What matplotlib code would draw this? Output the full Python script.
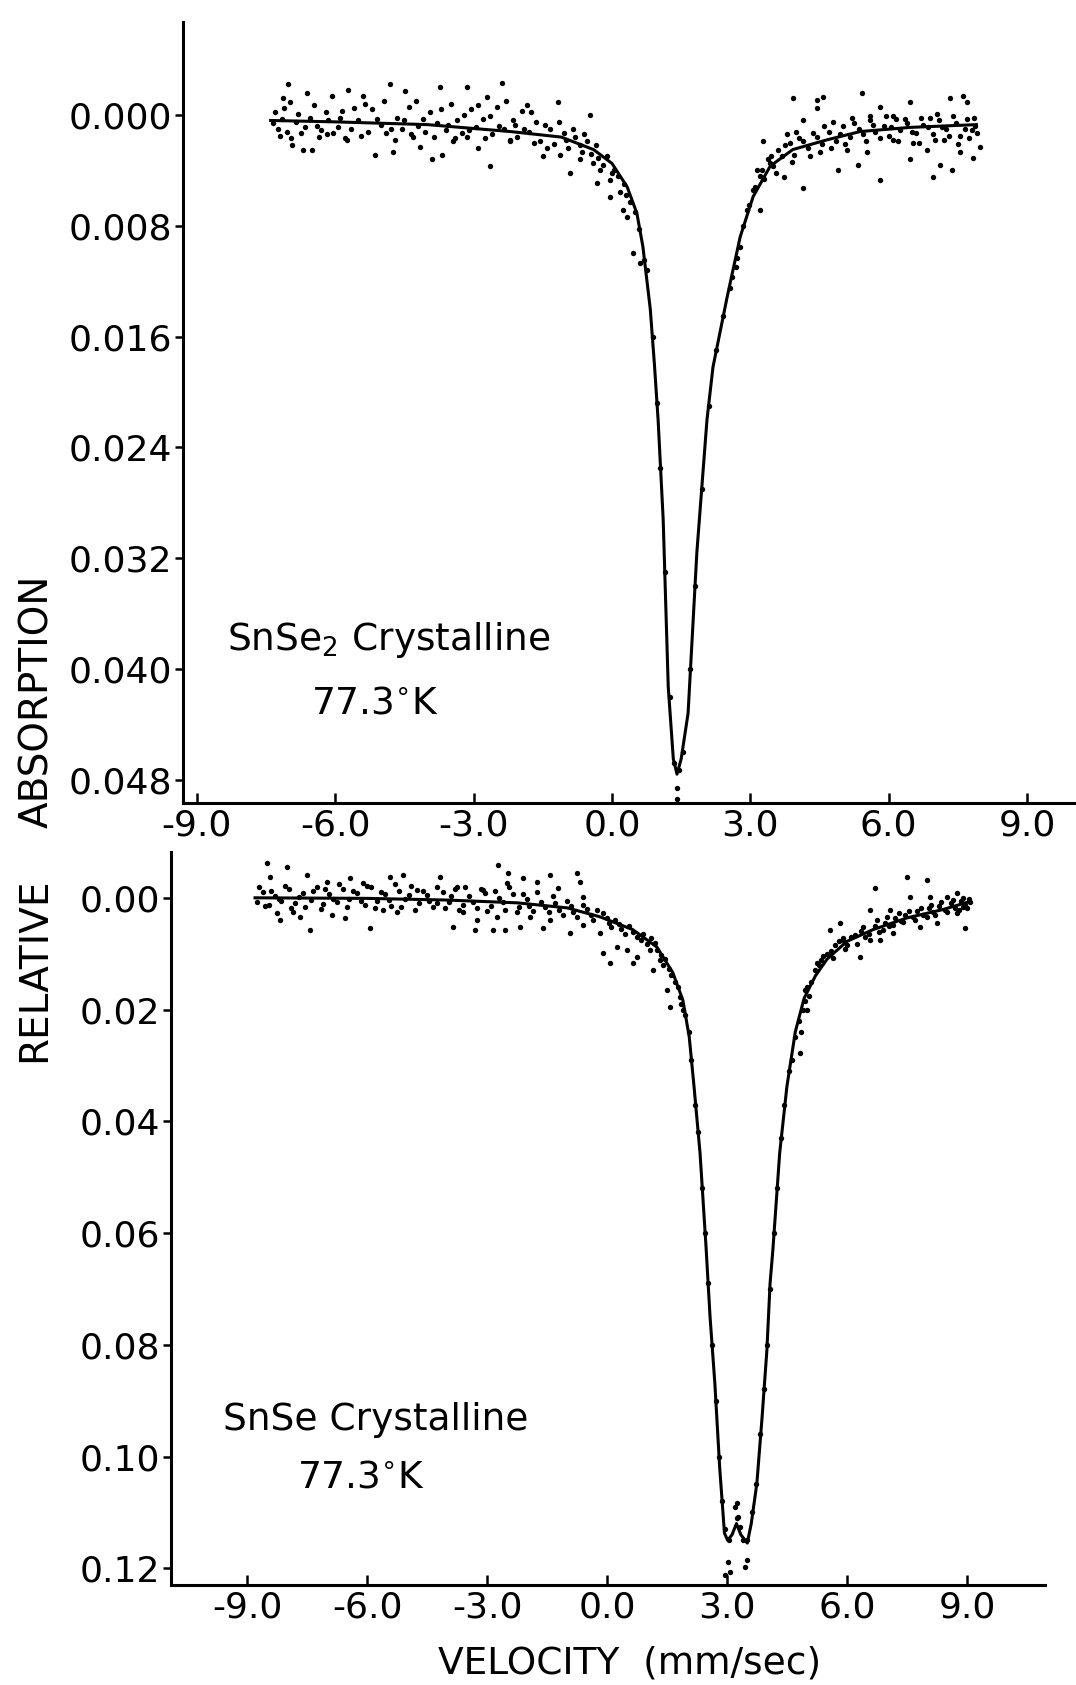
"""Mossbauer spectra of crystalline SnSe2 and SnSe at 77.3 K."""

import matplotlib

matplotlib.use("Agg")
import matplotlib.pyplot as plt

# ---- SnSe2 (top panel) -------------------------------------------------
snse2_fit_vel = [-7.4, -6.0, -4.0, -2.2, -1.1, -0.4, 0.0, 0.33, 0.54, 0.67, 0.83, 0.92,
                 1.0, 1.11, 1.22, 1.33, 1.41, 1.50, 1.65, 1.84, 2.06, 2.19, 2.50, 2.78,
                 3.06, 3.43, 3.92, 4.66, 5.38, 6.46, 7.9]
snse2_fit_abs = [0.0004, 0.0005, 0.0007, 0.0012, 0.0016, 0.0025, 0.0035, 0.0052, 0.0071,
                 0.0095, 0.0140, 0.0180, 0.0220, 0.0292, 0.0413, 0.0465, 0.0476, 0.0465,
                 0.0432, 0.0316, 0.0220, 0.0182, 0.0131, 0.0088, 0.0059, 0.0037, 0.0025,
                 0.0018, 0.0012, 0.0009, 0.0007]

snse2_pts_vel = [
    -7.02, -6.61, -7.13, -6.98, -6.07, -5.72, -5.39, -4.81, -4.49, -3.73, -3.14, -2.71,
    -2.38, -1.84, -1.17, -0.47,
    -6.93, -6.69, -6.50, -5.13, -4.74, -3.90, -3.68, -2.64, -2.90, -2.21, -1.49, -0.91,
    -0.32, -0.04, 0.24, 0.46, 0.61, -5.74, -6.18, -4.31, -4.16, -3.44, -3.14, -1.12,
    -0.69, -0.41, -0.04, 0.18, 0.33,
    -7.35, -7.25, -7.15, -7.05, -6.85, -6.75, -6.55, -6.40, -6.30, -6.15, -5.95, -5.85,
    -5.65, -5.50, -5.30, -5.20, -5.00, -4.90, -4.65, -4.55, -4.40, -4.20, -4.05, -3.95,
    -3.80, -3.60, -3.50, -3.35, -3.25, -3.05, -2.95, -2.80, -2.60, -2.50, -2.35, -2.15,
    -2.05, -1.95, -1.80, -1.65, -1.55, -1.35, -1.25, -1.05, -0.95, -0.80, -0.65, -0.55,
    -0.30, -0.20, 0.05, 0.12, 0.40, 0.50, 0.58, 0.70, 0.75,
    -7.30, -7.20, -7.10, -6.95, -6.80, -6.65, -6.45, -6.35, -6.20, -6.05, -5.90, -5.78,
    -5.60, -5.45, -5.35, -5.10, -4.95, -4.80, -4.70, -4.50, -4.35, -4.25, -4.10, -3.85,
    -3.70, -3.55, -3.40, -3.20, -3.10, -2.90, -2.75, -2.65, -2.45, -2.30, -2.20, -2.10,
    -1.90, -1.75, -1.70, -1.45, -1.40, -1.15, -1.00, -0.85, -0.70, -0.60, -0.45, -0.35,
    -0.25, -0.10, 0.00, 0.25, 0.30,
    0.88, 0.97, 1.05, 1.15, 1.25, 1.35, 1.45, 1.55, 1.70, 1.80, 1.95, 2.10, 2.25, 2.40,
    2.55, 2.68, 2.85, 2.98, 1.40, 1.40,
    3.92, 4.44, 4.58, 4.44, 5.42, 5.81, 6.46, 7.33, 7.61, 7.70, 4.14, 4.79, 5.59, 6.09,
    7.04, 3.28, 3.80, 3.21, 4.14, 4.90, 5.33, 5.81, 6.46, 6.96, 7.12, 7.37, 7.55, 7.83,
    7.98, 5.10, 5.53, 6.09, 6.53, 6.83, 7.19, 4.51, 3.72, 3.43, 3.06, 3.15, 2.93, 2.78,
    2.71, 2.61,
    3.10, 3.20, 3.30, 3.38, 3.50, 3.60, 3.68, 3.85, 3.95, 4.05, 4.25, 4.35, 4.55, 4.70,
    4.85, 5.00, 5.15, 5.25, 5.45, 5.60, 5.70, 5.90, 6.00, 6.15, 6.25, 6.40, 6.60, 6.70,
    6.85, 6.95, 7.10, 7.25, 7.45, 7.55, 7.70, 7.80, 7.88,
    3.25, 3.45, 3.55, 3.75, 3.90, 4.00, 4.15, 4.30, 4.45, 4.60, 4.75, 4.95, 5.05, 5.20,
    5.35, 5.50, 5.65, 5.80, 5.95, 6.05, 6.20, 6.35, 6.50, 6.65, 6.75, 6.90, 7.00, 7.15,
    7.30, 7.40, 7.50, 7.65, 7.75, 7.85, 7.92,
]
snse2_pts_abs = [
    -0.0022, -0.0016, -0.0012, -0.0009, -0.0014, -0.0018, -0.0014, -0.0022, -0.0017,
    -0.0020, -0.0020, -0.0013, -0.0023, -0.0007, -0.0009, 0.0000,
    0.0022, 0.0025, 0.0025, 0.0029, 0.0027, 0.0032, 0.0029, 0.0037, 0.0024, 0.0018,
    0.0030, 0.0042, 0.0049, 0.0059, 0.0069, 0.0100, 0.0107, 0.0018, 0.0014, 0.0016,
    0.0023, 0.0019, 0.0016, 0.0029, 0.0032, 0.0035, 0.0047, 0.0056, 0.0074,
    0.0006, 0.0010, 0.0003, 0.0012, 0.0005, 0.0013, 0.0002, 0.0008, 0.0011, 0.0004,
    0.0009, -0.0003, 0.0010, 0.0004, 0.0012, -0.0004, 0.0007, 0.0013, 0.0002, 0.0010,
    -0.0006, 0.0008, 0.0012, -0.0002, 0.0006, 0.0011, -0.0008, 0.0004, 0.0013, -0.0004,
    0.0009, 0.0003, 0.0014, -0.0006, 0.0010, 0.0004, 0.0016, -0.0003, 0.0012, 0.0005,
    0.0019, 0.0010, 0.0021, 0.0013, 0.0024, 0.0016, 0.0027, 0.0019, 0.0031, 0.0036,
    0.0040, 0.0044, 0.0063, 0.0070, 0.0082, 0.0105, 0.0112,
    -0.0002, 0.0015, -0.0005, 0.0017, -0.0001, 0.0009, -0.0007, 0.0016, -0.0002, 0.0013,
    0.0002, 0.0017, -0.0005, 0.0015, -0.0008, 0.0003, -0.0010, 0.0010, 0.0018, 0.0004,
    0.0014, -0.0010, 0.0003, 0.0016, -0.0004, 0.0007, 0.0017, 0.0000, 0.0011, -0.0007,
    0.0017, 0.0001, 0.0008, -0.0010, 0.0019, 0.0007, 0.0010, -0.0002, 0.0020, 0.0007,
    0.0024, 0.0005, 0.0018, 0.0010, 0.0022, 0.0014, 0.0028, 0.0022, 0.0040, 0.0030,
    0.0042, 0.0050, 0.0058,
    0.0160, 0.0208, 0.0255, 0.0330, 0.0420, 0.0468, 0.0473, 0.0460, 0.0400, 0.0340,
    0.0270, 0.0210, 0.0170, 0.0145, 0.0125, 0.0110, 0.0080, 0.0065, 0.0486, 0.0494,
    -0.0012, -0.0011, -0.0013, -0.0005, -0.0016, -0.0006, -0.0009, -0.0012, -0.0014,
    -0.0009, 0.0004, 0.0005, 0.0001, 0.0001, -0.0001, 0.0019, 0.0014, 0.0069, 0.0053,
    0.0040, 0.0036, 0.0047, 0.0032, 0.0045, 0.0036, 0.0040, 0.0027, 0.0031, 0.0023,
    0.0025, 0.0027, 0.0018, 0.0020, 0.0025, 0.0018, 0.0027, 0.0045, 0.0035, 0.0054,
    0.0040, 0.0069, 0.0095, 0.0103, 0.0117,
    0.0052, 0.0044, 0.0046, 0.0032, 0.0037, 0.0025, 0.0030, 0.0020, 0.0029, 0.0017,
    0.0024, 0.0013, 0.0021, 0.0012, 0.0019, 0.0008, 0.0016, 0.0006, 0.0014, 0.0004,
    0.0012, 0.0008, 0.0015, 0.0003, 0.0011, 0.0006, 0.0013, 0.0002, 0.0009, 0.0014,
    0.0004, 0.0010, 0.0006, 0.0015, 0.0003, 0.0011, 0.0008,
    0.0040, 0.0030, 0.0042, 0.0022, 0.0034, 0.0012, 0.0019, 0.0030, 0.0016, 0.0008,
    0.0024, 0.0014, 0.0021, 0.0002, 0.0010, 0.0019, 0.0007, 0.0017, 0.0001, 0.0009,
    0.0019, 0.0003, 0.0012, 0.0020, 0.0007, 0.0002, 0.0018, 0.0009, 0.0015, 0.0001,
    0.0021, 0.0010, 0.0017, 0.0002, 0.0013,
]

# ---- SnSe (bottom panel) -----------------------------------------------
snse_fit_vel = [-8.8, -6.0, -4.0, -2.25, -1.0, -0.18, 0.64, 1.24, 1.64, 1.89, 2.05, 2.17,
                2.32, 2.47, 2.57, 2.69, 2.81, 2.93, 3.01, 3.12, 3.23, 3.34, 3.50, 3.60,
                3.74, 3.87, 3.99, 4.07, 4.14, 4.31, 4.49, 4.70, 4.92, 5.20, 5.49, 5.99,
                6.64, 7.49, 8.39, 9.0]
snse_fit_abs = [0.0000, 0.0001, 0.0004, 0.0009, 0.0018, 0.0034, 0.0057, 0.0088, 0.0134,
                0.0183, 0.0249, 0.0338, 0.0457, 0.0625, 0.0750, 0.0869, 0.1019, 0.1137,
                0.1150, 0.1140, 0.1120, 0.1140, 0.1155, 0.1120, 0.1048, 0.0930, 0.0810,
                0.0690, 0.0630, 0.0457, 0.0338, 0.0240, 0.0180, 0.0140, 0.0110, 0.0078,
                0.0057, 0.0036, 0.0021, 0.0008]

snse_pts_vel = [
    -8.50, -8.43, -8.00, -7.50, -7.00, -6.43, -6.10, -5.43, -5.10, -4.75, -4.18, -3.76,
    -2.73, -2.48, -2.10, -1.76, -1.43, -1.23, -0.76, -0.68, -0.61, -2.50, -3.10,
    -8.25, -8.18, -7.85, -7.68, -7.43, -6.88, -6.55, -5.93, -5.60, -5.25, -4.25, -3.85,
    -3.60, -3.26, -3.30, -2.85, -2.55, -2.76, -2.18, -1.93, -1.60, -1.43, -0.93, -0.61,
    -0.18, -0.11, 0.07, 0.24, 0.49, 0.64, 0.74, 1.07, 1.14, 1.32, 1.49, 1.57, 1.82, 1.89,
    -8.75, -8.60, -8.45, -8.30, -8.15, -7.95, -7.80, -7.60, -7.40, -7.25, -7.10, -6.95,
    -6.75, -6.60, -6.45, -6.25, -6.05, -5.90, -5.75, -5.55, -5.40, -5.20, -5.05, -4.90,
    -4.70, -4.50, -4.35, -4.10, -3.95, -3.80, -3.60, -3.45, -3.25, -3.05, -2.90, -2.70,
    -2.55, -2.35, -2.20, -2.00, -1.85, -1.65, -1.45, -1.30, -1.10, -0.90, -0.75, -0.50,
    -0.35, -0.10, 0.05, 0.20, 0.35, 0.55, 0.75, 0.90, 1.00, 1.20, 1.35, 1.45, 1.55,
    1.70, 1.78, 1.95, 2.05, 2.10,
    -8.70, -8.55, -8.40, -8.20, -8.05, -7.90, -7.70, -7.55, -7.35, -7.15, -7.05, -6.85,
    -6.70, -6.50, -6.35, -6.15, -6.00, -5.80, -5.65, -5.45, -5.30, -5.15, -4.95, -4.80,
    -4.60, -4.45, -4.25, -4.05, -3.90, -3.70, -3.55, -3.35, -3.15, -3.00, -2.80, -2.60,
    -2.45, -2.25, -2.10, -1.95, -1.75, -1.55, -1.35, -1.20, -1.00, -0.85, -0.60, -0.40,
    -0.25, 0.00, 0.10, 0.30, 0.45, 0.65, 0.85, 1.10, 1.25, 1.40, 1.60, 1.85,
    2.20, 2.28, 2.36, 2.45, 2.52, 2.62, 2.72, 2.80, 2.88, 2.95, 3.05, 3.20, 3.25, 3.40,
    3.50, 3.62, 3.72, 3.82, 3.92, 4.00, 4.08, 4.18, 4.25, 4.35, 4.42, 4.55, 4.62, 4.70,
    3.02, 3.07, 2.94, 3.49, 3.44, 3.24, 3.26, 3.31,
    4.81, 4.99, 4.94, 5.24, 5.57, 5.82, 5.89, 6.32, 6.57, 6.69, 6.57, 6.82, 7.07, 7.14,
    7.49, 7.57, 7.82, 7.99, 8.07, 8.24, 8.49, 8.74, 8.89, 8.94, 9.07, 8.74,
    4.80, 4.90, 5.00, 5.10, 5.30, 5.40, 5.60, 5.70, 5.90, 6.00, 6.20, 6.35, 6.45, 6.70,
    6.80, 6.95, 7.05, 7.20, 7.35, 7.45, 7.65, 7.75, 7.90, 8.05, 8.15, 8.30, 8.45, 8.60,
    8.70, 8.85, 8.95, 9.05,
    4.85, 4.95, 5.05, 5.20, 5.35, 5.50, 5.65, 5.80, 5.95, 6.10, 6.25, 6.40, 6.55, 6.75,
    6.90, 7.00, 7.15, 7.30, 7.40, 7.55, 7.70, 7.85, 8.00, 8.10, 8.20, 8.35, 8.50, 8.65,
    8.80, 8.90, 9.00,
]
snse_pts_abs = [
    -0.0063, -0.0038, -0.0056, -0.0041, -0.0029, -0.0036, -0.0027, -0.0038, -0.0041,
    -0.0014, -0.0038, -0.0020, -0.0059, -0.0045, -0.0036, -0.0029, -0.0041, -0.0018,
    -0.0045, -0.0029, -0.0002, -0.0027, -0.0014,
    0.0027, 0.0039, 0.0025, 0.0034, 0.0057, 0.0030, 0.0036, 0.0054, 0.0021, 0.0025,
    0.0009, 0.0052, 0.0025, 0.0039, 0.0057, 0.0057, 0.0057, 0.0034, 0.0052, 0.0034,
    0.0054, 0.0039, 0.0063, 0.0048, 0.0063, 0.0098, 0.0116, 0.0088, 0.0093, 0.0116,
    0.0106, 0.0093, 0.0129, 0.0111, 0.0165, 0.0195, 0.0177, 0.0200,
    0.0008, -0.0010, 0.0012, -0.0004, 0.0006, -0.0015, 0.0010, -0.0008, 0.0004, -0.0020,
    0.0011, -0.0006, 0.0008, -0.0016, 0.0003, -0.0009, 0.0012, -0.0019, 0.0005, -0.0007,
    0.0014, -0.0012, 0.0002, -0.0022, 0.0010, -0.0005, 0.0016, -0.0010, 0.0007, -0.0016,
    0.0012, -0.0004, 0.0018, -0.0009, 0.0014, 0.0000, 0.0021, -0.0006, 0.0016, 0.0003,
    0.0024, 0.0007, 0.0025, 0.0010, 0.0030, 0.0014, 0.0034, 0.0020, 0.0040, 0.0028,
    0.0045, 0.0040, 0.0056, 0.0050, 0.0070, 0.0064, 0.0082, 0.0080, 0.0102, 0.0110,
    0.0128, 0.0150, 0.0160, 0.0210, 0.0240, 0.0290,
    -0.0020, 0.0015, -0.0013, 0.0002, -0.0022, 0.0018, -0.0002, 0.0016, -0.0012, 0.0020,
    -0.0015, 0.0002, -0.0024, 0.0016, -0.0012, 0.0006, -0.0022, 0.0019, -0.0010, 0.0004,
    -0.0024, 0.0017, -0.0005, 0.0021, -0.0013, 0.0005, -0.0020, 0.0019, -0.0003, 0.0022,
    -0.0019, 0.0008, -0.0016, 0.0024, -0.0012, 0.0008, -0.0020, 0.0026, -0.0006, 0.0014,
    -0.0010, 0.0017, -0.0003, 0.0022, 0.0005, 0.0026, 0.0012, 0.0030, 0.0022, 0.0036,
    0.0052, 0.0046, 0.0064, 0.0062, 0.0076, 0.0072, 0.0094, 0.0120, 0.0138, 0.0190,
    0.0370, 0.0420, 0.0520, 0.0600, 0.0690, 0.0800, 0.0900, 0.1000, 0.1080, 0.1130,
    0.1150, 0.1090, 0.1110, 0.1150, 0.1150, 0.1100, 0.1050, 0.0960, 0.0880, 0.0800,
    0.0700, 0.0600, 0.0520, 0.0430, 0.0370, 0.0310, 0.0290, 0.0250,
    0.1189, 0.1207, 0.1212, 0.1185, 0.1198, 0.1083, 0.1108, 0.1126,
    0.0278, 0.0200, 0.0165, 0.0116, 0.0057, 0.0045, 0.0075, 0.0106, 0.0075, -0.0018,
    0.0021, 0.0075, 0.0021, 0.0063, -0.0038, -0.0002, 0.0052, -0.0032, -0.0002, 0.0045,
    -0.0002, -0.0009, 0.0016, 0.0054, 0.0007, 0.0027,
    0.0220, 0.0200, 0.0160, 0.0150, 0.0120, 0.0105, 0.0095, 0.0085, 0.0072, 0.0085,
    0.0066, 0.0060, 0.0070, 0.0050, 0.0062, 0.0045, 0.0050, 0.0036, 0.0042, 0.0030,
    0.0034, 0.0024, 0.0030, 0.0018, 0.0026, 0.0014, 0.0022, 0.0010, 0.0018, 0.0006,
    0.0012, 0.0003,
    0.0240, 0.0185, 0.0175, 0.0130, 0.0112, 0.0100, 0.0108, 0.0078, 0.0092, 0.0070,
    0.0082, 0.0052, 0.0064, 0.0040, 0.0058, 0.0034, 0.0048, 0.0028, 0.0044, 0.0024,
    0.0040, 0.0018, 0.0034, 0.0012, 0.0030, 0.0008, 0.0026, 0.0004, 0.0022, 0.0000,
    0.0018,
]

vel_ticks = [-9.0, -6.0, -3.0, 0.0, 3.0, 6.0, 9.0]
vel_tick_labels = ["-9.0", "-6.0", "-3.0", "0.0", "3.0", "6.0", "9.0"]
snse2_ticks = [0.000, 0.008, 0.016, 0.024, 0.032, 0.040, 0.048]
snse2_tick_labels = ["0.000", "0.008", "0.016", "0.024", "0.032", "0.040", "0.048"]
snse_ticks = [0.00, 0.02, 0.04, 0.06, 0.08, 0.10, 0.12]
snse_tick_labels = ["0.00", "0.02", "0.04", "0.06", "0.08", "0.10", "0.12"]

W, H = 1076, 1685
plt.rcParams["font.family"] = ["DejaVu Sans"]
fig = plt.figure(figsize=(W / 100, H / 100), dpi=100)
fig.patch.set_facecolor("white")


def style_panel(ax, yticks, ylabels):
    for side in ("top", "right"):
        ax.spines[side].set_visible(False)
    for side in ("left", "bottom"):
        ax.spines[side].set_linewidth(2.2)
    ax.set_xticks(vel_ticks)
    ax.set_xticklabels(vel_tick_labels)
    ax.set_yticks(yticks)
    ax.set_yticklabels(ylabels)
    ax.tick_params(axis="x", direction="in", length=7, width=1.8, pad=4, labelsize=26)
    ax.tick_params(axis="y", direction="out", length=6, width=1.8, pad=2, labelsize=26)


# top panel
ax1 = fig.add_axes([183 / W, 1 - 803 / H, (W - 183) / W, (803 - 22) / H])
ax1.scatter(snse2_pts_vel, snse2_pts_abs, s=15, color="black", linewidths=0)
ax1.plot(snse2_fit_vel, snse2_fit_abs, color="black", lw=2.2)
ax1.set_xlim(-9.30, 10.06)
ax1.set_ylim(0.04968, -0.00671)
style_panel(ax1, snse2_ticks, snse2_tick_labels)
ax1.text(-8.34, 0.0379, "SnSe$_2$ Crystalline", fontsize=27, ha="left", va="center")
ax1.text(-5.13, 0.0425, "77.3$^{\\circ}$K", fontsize=27, ha="center", va="center")

# bottom panel
ax2 = fig.add_axes([171 / W, 1 - 1585 / H, (1045 - 171) / W, (1585 - 852) / H])
ax2.scatter(snse_pts_vel, snse_pts_abs, s=15, color="black", linewidths=0)
ax2.plot(snse_fit_vel, snse_fit_abs, color="black", lw=2.2)
ax2.set_xlim(-10.90, 10.94)
ax2.set_ylim(0.1230, -0.0082)
style_panel(ax2, snse_ticks, snse_tick_labels)
ax2.text(-9.6, 0.0935, "SnSe Crystalline", fontsize=27, ha="left", va="center")
ax2.text(-6.15, 0.1037, "77.3$^{\\circ}$K", fontsize=27, ha="center", va="center")

# shared axis titles
fig.text(37 / W, 1 - 701 / H, "ABSORPTION", rotation=90, fontsize=28,
         ha="center", va="center")
fig.text(34 / W, 1 - 970 / H, "RELATIVE", rotation=90, fontsize=28,
         ha="center", va="center")
fig.text(630 / W, 1 - 1663 / H, "VELOCITY  (mm/sec)", fontsize=27,
         ha="center", va="center")

fig.savefig("out.png", dpi=100, facecolor="white")
